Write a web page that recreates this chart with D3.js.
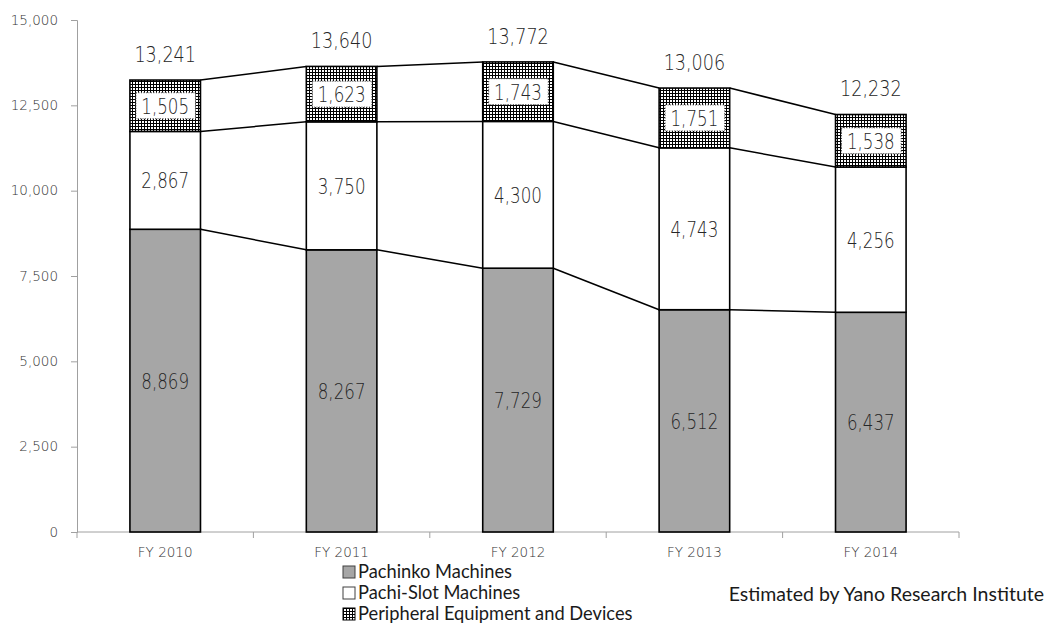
<!DOCTYPE html>
<html><head><meta charset="utf-8">
<script src="https://cdn.jsdelivr.net/npm/d3@7"></script>
<style>body{margin:0;background:#fff}svg{display:block}</style>
</head><body>
<script>
const categories = ["FY 2010","FY 2011","FY 2012","FY 2013","FY 2014"];
const pachinko = [8869, 8267, 7729, 6512, 6437];
const pachiSlot = [2867, 3750, 4300, 4743, 4256];
const peripheral = [1505, 1623, 1743, 1751, 1538];
const totals = [13241, 13640, 13772, 13006, 12232];
const yTicks = [0, 2500, 5000, 7500, 10000, 12500, 15000];
const seriesNames = ["Pachinko Machines", "Pachi-Slot Machines", "Peripheral Equipment and Devices"];
const source = "Estimated by Yano Research Institute";

const W = 1048, H = 625;
const svg = d3.select("body").append("svg").attr("width", W).attr("height", H);
const defs = svg.append("defs");
const pat = defs.append("pattern").attr("id","grid").attr("patternUnits","userSpaceOnUse")
  .attr("width",3).attr("height",3);
pat.append("rect").attr("width",3).attr("height",3).attr("fill","#fff");
pat.append("rect").attr("x",0).attr("y",0).attr("width",3).attr("height",1).attr("fill","#000");
pat.append("rect").attr("x",0).attr("y",0).attr("width",1).attr("height",3).attr("fill","#000");

const x0 = 77, x1 = 959, yBottom = 532, yTop = 20;
const x = d3.scaleBand().domain(categories).range([x0, x1]).paddingInner(0.6).paddingOuter(0.3);
const xb = d3.scaleBand().domain(categories).range([x0, x1]);
const y = d3.scaleLinear().domain([0, 15000]).range([yBottom, yTop]);

const numFont = "'DejaVu Sans', sans-serif";
const fmt = d3.format(",");

function numLabel(cx, cy, txt, size, sx) {
  svg.append("text").attr("transform", `translate(${cx},${cy}) scale(${sx},1)`)
    .attr("text-anchor","middle").attr("dy","0.36em")
    .attr("font-family",numFont).attr("font-weight",300)
    .attr("font-size",size).attr("fill","#262626").text(txt);
}

// y axis
const yAxis = svg.append("g").attr("transform", `translate(${x0},0)`)
  .call(d3.axisLeft(y).tickValues(yTicks).tickFormat(fmt).tickSize(6).tickPadding(13));
yAxis.select(".domain").attr("stroke","#a0a0a0");
yAxis.selectAll(".tick line").attr("stroke","#a0a0a0");
yAxis.selectAll("text").attr("font-family",numFont).attr("font-size",13.5)
  .attr("font-weight",300).attr("fill","#333");

// x axis
const xAxisG = svg.append("g").attr("transform", `translate(0,${yBottom})`);
xAxisG.append("line").attr("x1",x0).attr("x2",x1).attr("y1",0).attr("y2",0).attr("stroke","#a0a0a0");
xAxisG.selectAll("line.t").data(categories.concat(["end"])).join("line").attr("class","t")
  .attr("x1",(d,i)=> x0 + i*xb.bandwidth()).attr("x2",(d,i)=> x0 + i*xb.bandwidth())
  .attr("y1",0).attr("y2",6).attr("stroke","#a0a0a0");
xAxisG.selectAll("text").data(categories).join("text")
  .attr("x", d => xb(d) + xb.bandwidth()/2).attr("y", 25).attr("text-anchor","middle")
  .attr("font-family",numFont).attr("font-weight",300).attr("font-size",13.5).attr("fill","#333").text(d=>d);

// stacked data
const stacks = categories.map((c,i) => {
  const a = pachinko[i], b = a + pachiSlot[i], t = b + peripheral[i];
  return {c, i, levels:[[0,a],[a,b],[b,t]]};
});
const fills = ["#a6a6a6", "#ffffff", "url(#grid)"];
const values = [pachinko, pachiSlot, peripheral];

// connector lines
for (let s = 0; s < 3; s++) {
  for (let i = 0; i < categories.length - 1; i++) {
    const ya = y(stacks[i].levels[s][1]), yb2 = y(stacks[i+1].levels[s][1]);
    svg.append("line")
      .attr("x1", x(categories[i]) + x.bandwidth()).attr("y1", ya)
      .attr("x2", x(categories[i+1])).attr("y2", yb2)
      .attr("stroke","#000").attr("stroke-width",1.5);
  }
}

// bars
stacks.forEach(st => {
  st.levels.forEach((lv, s) => {
    svg.append("rect")
      .attr("x", x(st.c)).attr("width", x.bandwidth())
      .attr("y", y(lv[1])).attr("height", y(lv[0]) - y(lv[1]))
      .attr("fill", fills[s]).attr("stroke","#000").attr("stroke-width",1.6);
  });
});

// segment labels
stacks.forEach(st => {
  st.levels.forEach((lv, s) => {
    const cx = x(st.c) + x.bandwidth()/2;
    const cy = (y(lv[0]) + y(lv[1]))/2;
    if (s === 2) {
      svg.append("rect").attr("x", x(st.c) + 6).attr("y", cy - 13)
        .attr("width", x.bandwidth() - 11).attr("height", 26)
        .attr("fill","#fff").attr("stroke","#444").attr("stroke-width",1).attr("stroke-dasharray","1,1.5");
    }
    numLabel(cx, cy, fmt(values[s][st.i]), 22, 0.76);
  });
  numLabel(x(st.c) + x.bandwidth()/2, y(totals[st.i]) - 26, fmt(totals[st.i]), 22, 0.8);
});

// legend
const legFont = "Lato, 'Open Sans', sans-serif";
const lg = svg.append("g").attr("transform","translate(343,572)");
seriesNames.forEach((n, i) => {
  const g = lg.append("g").attr("transform", `translate(0,${i*21})`);
  g.append("rect").attr("x",0).attr("y",-6).attr("width",12).attr("height",12)
    .attr("fill", fills[i]).attr("stroke", i===2 ? "#000" : "#404040").attr("stroke-width",1);
  g.append("text").attr("x",15).attr("y",0).attr("dy","0.35em")
    .attr("font-family",legFont).attr("font-size",18.3).attr("fill","#1a1a1a").text(n);
});

svg.append("text").attr("x",1044).attr("y",594).attr("dy","0.35em").attr("text-anchor","end")
  .attr("font-family",legFont).attr("font-size",19.5).attr("fill","#1a1a1a").text(source);
</script>
</body></html>
